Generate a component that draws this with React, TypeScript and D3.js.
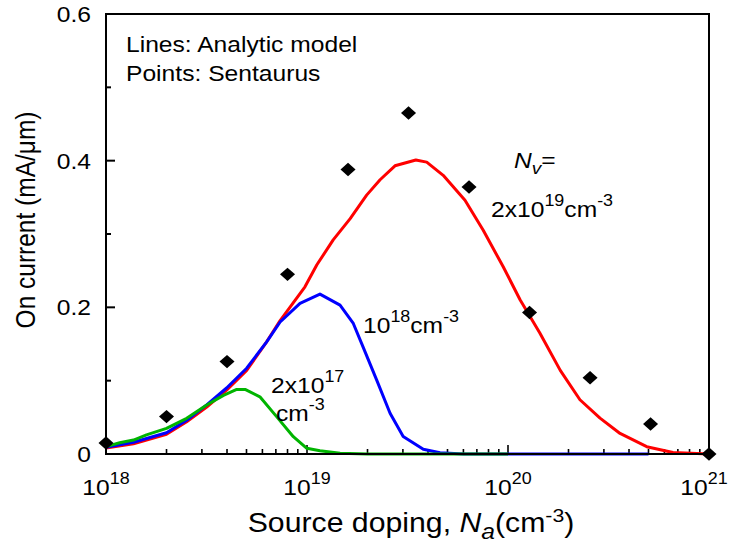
import React from "react";
import * as d3 from "d3";

// Analytic model, On current (mA/µm) vs source doping Na (cm^-3), for three Nv values
const curveNv2e19: [number, number][] = [
  [1e18, 0.008], [1.37e18, 0.014], [2e18, 0.027], [2.52e18, 0.044], [3.17e18, 0.064],
  [3.98e18, 0.087], [5.01e18, 0.114], [6.3e18, 0.153], [7.35e18, 0.182], [9.77e18, 0.228],
  [1.12e19, 0.258], [1.35e19, 0.292], [1.64e19, 0.321], [1.98e19, 0.353], [2.31e19, 0.374],
  [2.74e19, 0.393], [3.48e19, 0.401], [3.94e19, 0.398], [4.76e19, 0.38], [6.11e19, 0.346],
  [7.53e19, 0.305], [9.48e19, 0.255], [1.15e20, 0.21], [1.44e20, 0.165], [1.82e20, 0.114],
  [2.28e20, 0.074], [2.87e20, 0.049], [3.61e20, 0.028], [4.9e20, 0.01], [6.62e20, 0.002],
  [1e21, 0],
];

const curveNv1e18: [number, number][] = [
  [1e18, 0.009], [1.37e18, 0.016], [2e18, 0.029], [2.52e18, 0.046], [3.17e18, 0.067],
  [3.98e18, 0.09], [5.01e18, 0.117], [6.3e18, 0.153], [7.35e18, 0.18], [9.23e18, 0.2055],
  [1.16e19, 0.218], [1.46e19, 0.203], [1.7e19, 0.178], [1.9e19, 0.146], [2.22e19, 0.101],
  [2.59e19, 0.0555], [3.01e19, 0.024], [3.79e19, 0.0064], [4.59e19, 0.0018], [6e19, 0],
  [5e20, 0],
];

const curveNv2e17: [number, number][] = [
  [1e18, 0.01], [1.17e18, 0.0154], [1.37e18, 0.019], [1.59e18, 0.026], [2e18, 0.035],
  [2.52e18, 0.0487], [3.17e18, 0.0668], [3.84e18, 0.08], [4.47e18, 0.088], [4.92e18, 0.088],
  [5.83e18, 0.078], [7.06e18, 0.051], [8.55e18, 0.0236], [9.98e18, 0.0078], [1.16e19, 0.0045],
  [1.46e19, 0.001], [2e19, 0], [1e20, 0],
];

// Sentaurus simulation points
const simDoping = [1e18, 2e18, 4e18, 8e18, 1.6e19, 3.2e19, 6.4e19, 1.28e20, 2.56e20, 5.12e20, 1e21];
const simCurrent = [0.015, 0.051, 0.126, 0.245, 0.388, 0.465, 0.364, 0.193, 0.104, 0.041, 0.0];

const yTickValues = [0, 0.2, 0.4, 0.6];
const yTickLabels = ["0", "0.2", "0.4", "0.6"];
const yMinorValues = [0.1, 0.3, 0.5];

const W = 730;
const H = 543;
const FONT = "'Liberation Sans', Arial, Helvetica, sans-serif";
const SX = 1.12; // horizontal glyph stretch

type Part = { t: string; shift?: number; size?: number; italic?: boolean };

function RichText({
  x, y, parts, size, anchor = "start", rotate = 0,
}: { x: number; y: number; parts: Part[]; size: number; anchor?: string; rotate?: number }) {
  let prev = 0;
  return (
    <text
      transform={`translate(${x},${y}) scale(${SX},1)${rotate ? ` rotate(${rotate})` : ""}`}
      fontFamily={FONT}
      fontSize={size}
      textAnchor={anchor}
      fill="#000"
    >
      {parts.map((p, i) => {
        const s = p.shift ?? 0;
        const dy = s - prev;
        prev = s;
        return (
          <tspan
            key={i}
            dy={dy}
            fontSize={p.size ?? size}
            fontStyle={p.italic ? "italic" : "normal"}
          >
            {p.t}
          </tspan>
        );
      })}
    </text>
  );
}

export default function App() {
  const x = d3.scaleLog().domain([1e18, 1e21]).range([106, 709]);
  const y = d3.scaleLinear().domain([0, 0.6]).range([454, 14]);

  const line = d3
    .line<[number, number]>()
    .x((d) => x(d[0]))
    .y((d) => y(d[1]));

  const xTicks = x.ticks();
  const isMajor = (v: number) => Math.abs(Math.log10(v) - Math.round(Math.log10(v))) < 1e-9;

  const diamond = d3.symbol().type(d3.symbolSquare).size(90)() as string;

  const [x0, x1] = x.range();
  const [y0, y1] = y.range();

  const series = [
    { data: curveNv2e19, color: "#ff0000" },
    { data: curveNv1e18, color: "#0000ff" },
    { data: curveNv2e17, color: "#00b400" },
  ];

  // keep the last decade label inside the page
  const labelX = (v: number) => Math.min(x(v), W - 26);

  return (
    <svg
      width={W}
      height={H}
      style={{ position: "absolute", left: 0, top: 0, background: "#fff" }}
    >
      <rect x={0} y={0} width={W} height={H} fill="#fff" />

      {/* y ticks (inward) */}
      {yTickValues.map((v) => (
        <line key={`ym${v}`} x1={x0} x2={x0 + 9} y1={y(v)} y2={y(v)} stroke="#000" strokeWidth={2} />
      ))}
      {yMinorValues.map((v) => (
        <line key={`yn${v}`} x1={x0} x2={x0 + 5} y1={y(v)} y2={y(v)} stroke="#000" strokeWidth={2} />
      ))}
      {yTickValues.map((v, i) => (
        <RichText key={`yl${v}`} x={91} y={y(v) + 8} parts={[{ t: yTickLabels[i] }]} size={22} anchor="end" />
      ))}

      {/* x ticks (inward), log decades with minor ticks */}
      {xTicks.map((v) => (
        <line
          key={`xt${v}`}
          x1={x(v)}
          x2={x(v)}
          y1={y0}
          y2={y0 - (isMajor(v) ? 9 : 5)}
          stroke="#000"
          strokeWidth={1.6}
        />
      ))}
      {xTicks.filter(isMajor).map((v) => (
        <RichText
          key={`xl${v}`}
          x={labelX(v)}
          y={495}
          size={22}
          anchor="middle"
          parts={[{ t: "10" }, { t: String(Math.round(Math.log10(v))), shift: -11, size: 16 }]}
        />
      ))}

      {/* model curves */}
      {series.map((s, i) => (
        <path
          key={i}
          d={line(s.data) as string}
          fill="none"
          stroke={s.color}
          strokeWidth={3}
          strokeLinejoin="round"
        />
      ))}

      {/* frame */}
      <rect x={x0} y={y1} width={x1 - x0} height={y0 - y1} fill="none" stroke="#000" strokeWidth={2} />

      {/* simulation points */}
      {simDoping.map((d, i) => (
        <path
          key={`p${i}`}
          d={diamond}
          transform={`translate(${x(d)},${y(simCurrent[i])}) scale(${SX},1) rotate(45)`}
          fill="#000"
        />
      ))}

      {/* annotations */}
      <RichText x={126} y={52} size={22} parts={[{ t: "Lines: Analytic model" }]} />
      <RichText x={126} y={81} size={22} parts={[{ t: "Points: Sentaurus" }]} />

      <RichText
        x={514}
        y={168}
        size={22}
        parts={[{ t: "N", italic: true }, { t: "v", italic: true, shift: 6, size: 17 }, { t: "=" }]}
      />
      <RichText
        x={491}
        y={217}
        size={22}
        parts={[{ t: "2x10" }, { t: "19", shift: -11, size: 16 }, { t: "cm" }, { t: "-3", shift: -11, size: 16 }]}
      />
      <RichText
        x={363}
        y={333}
        size={22}
        parts={[{ t: "10" }, { t: "18", shift: -11, size: 16 }, { t: "cm" }, { t: "-3", shift: -11, size: 16 }]}
      />
      <RichText
        x={271}
        y={393}
        size={22}
        parts={[{ t: "2x10" }, { t: "17", shift: -11, size: 16 }]}
      />
      <RichText
        x={276}
        y={421}
        size={22}
        parts={[{ t: "cm" }, { t: "-3", shift: -11, size: 16 }]}
      />

      {/* axis titles */}
      <RichText
        x={411}
        y={532}
        size={27}
        anchor="middle"
        parts={[
          { t: "Source doping, " },
          { t: "N", italic: true },
          { t: "a", italic: true, shift: 7, size: 22 },
          { t: "(cm" },
          { t: "-3", shift: -10, size: 19 },
          { t: ")" },
        ]}
      />
      <RichText
        x={35}
        y={220}
        size={24.5}
        anchor="middle"
        rotate={-90}
        parts={[{ t: "On current (mA/\u03bcm)" }]}
      />
    </svg>
  );
}
